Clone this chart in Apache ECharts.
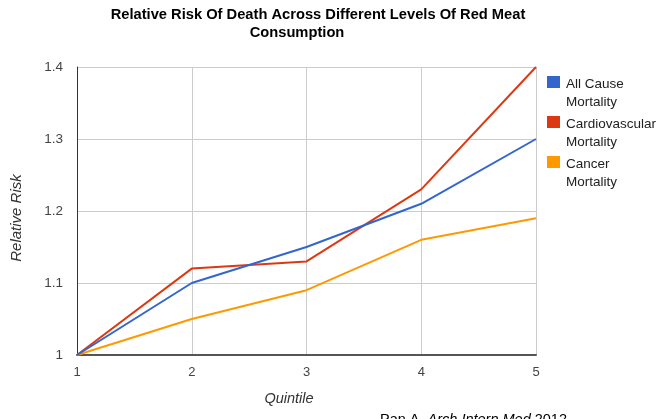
<!DOCTYPE html>
<html>
<head>
<meta charset="utf-8">
<script src="https://cdn.jsdelivr.net/npm/echarts@6/dist/echarts.min.js"></script>
<style>
  html, body { margin: 0; padding: 0; background: #fff; }
  #chart { width: 663px; height: 419px; }
</style>
</head>
<body>
<div id="chart"></div>
<script>
// Quintiles of red meat intake and the relative risk for each cause of death
const quintiles = [1, 2, 3, 4, 5];
const allCause = [1.00, 1.10, 1.15, 1.21, 1.30];
const cardiovascular = [1.00, 1.12, 1.13, 1.23, 1.40];
const cancer = [1.00, 1.05, 1.09, 1.16, 1.19];
const yTicks = [1.0, 1.1, 1.2, 1.3, 1.4];

const seriesNames = ['All Cause\nMortality', 'Cardiovascular\nMortality', 'Cancer\nMortality'];
const seriesValues = [allCause, cardiovascular, cancer];
const seriesColors = ['#3366cc', '#dc3912', '#ff9900'];

const titleLines = ['Relative Risk Of Death Across Different Levels Of Red Meat', 'Consumption'];

const baseFont = '"Liberation Sans", Arial, sans-serif';

const chart = echarts.init(document.getElementById('chart'));

const series = seriesNames.map((name, i) => ({
  name: name,
  type: 'line',
  data: quintiles.map((q, j) => [q, seriesValues[i][j]]),
  showSymbol: false,
  symbol: 'none',
  lineStyle: { width: 2, color: seriesColors[i] },
  itemStyle: { color: seriesColors[i] },
  z: 10 - i
}));

// Legend drawn as swatch + two-line label, swatch aligned to the first line
const legendGraphics = [];
seriesNames.forEach((name, i) => {
  const top = 76 + i * 40;
  legendGraphics.push({
    type: 'rect',
    left: 547, top: top,
    shape: { width: 13, height: 12 },
    style: { fill: seriesColors[i] }
  });
  legendGraphics.push({
    type: 'text',
    left: 566, top: top - 1,
    style: {
      text: name,
      fill: '#222',
      font: '13.5px ' + baseFont,
      lineHeight: 18
    }
  });
});

const titleStyle = {
  fontFamily: baseFont,
  fontWeight: 'bold',
  fontSize: 14.7,
  color: '#000'
};

chart.setOption({
  animation: false,
  backgroundColor: '#fff',
  title: [
    { text: titleLines[0], left: 318, textAlign: 'center', top: 7, padding: 0, textStyle: titleStyle },
    { text: titleLines[1], left: 297, textAlign: 'center', top: 25, padding: 0, textStyle: titleStyle }
  ],
  grid: { left: 77, right: 127, top: 67, bottom: 64, containLabel: false },
  xAxis: {
    type: 'value',
    min: 1, max: 5, interval: 1,
    name: 'Quintile',
    nameLocation: 'middle',
    nameGap: 36,
    nameTextStyle: { fontStyle: 'italic', fontSize: 14.5, color: '#333', fontFamily: baseFont, padding: [0, 35, 0, 0] },
    axisLine: { show: true, lineStyle: { color: '#555', width: 2 } },
    axisTick: { show: false },
    axisLabel: { color: '#444', fontSize: 13, margin: 11, fontFamily: baseFont },
    splitLine: { show: true, lineStyle: { color: '#ccc', width: 1 } }
  },
  yAxis: {
    type: 'value',
    min: yTicks[0], max: yTicks[yTicks.length - 1], interval: 0.1,
    name: 'Relative Risk',
    nameLocation: 'middle',
    nameGap: 53,
    nameTextStyle: { fontStyle: 'italic', fontSize: 15, color: '#333', fontFamily: baseFont, padding: [0, 14, 0, 0] },
    axisLine: { show: true, onZero: false, lineStyle: { color: '#333', width: 1 } },
    axisTick: { show: false },
    axisLabel: {
      color: '#444', fontSize: 13.5, margin: 14,
      fontFamily: baseFont,
      formatter: v => String(parseFloat(v.toFixed(1)))
    },
    splitLine: { show: true, lineStyle: { color: '#ccc', width: 1 } }
  },
  series: series,
  graphic: legendGraphics.concat([
    {
      type: 'text',
      left: 380, top: 412,
      style: {
        text: '{n|Pan A, }{i|Arch Intern Med}{n| 2012}',
        rich: {
          n: { font: '14.5px ' + baseFont, fill: '#000' },
          i: { font: 'italic 14.5px ' + baseFont, fill: '#000' }
        }
      }
    }
  ])
});
</script>
</body>
</html>
